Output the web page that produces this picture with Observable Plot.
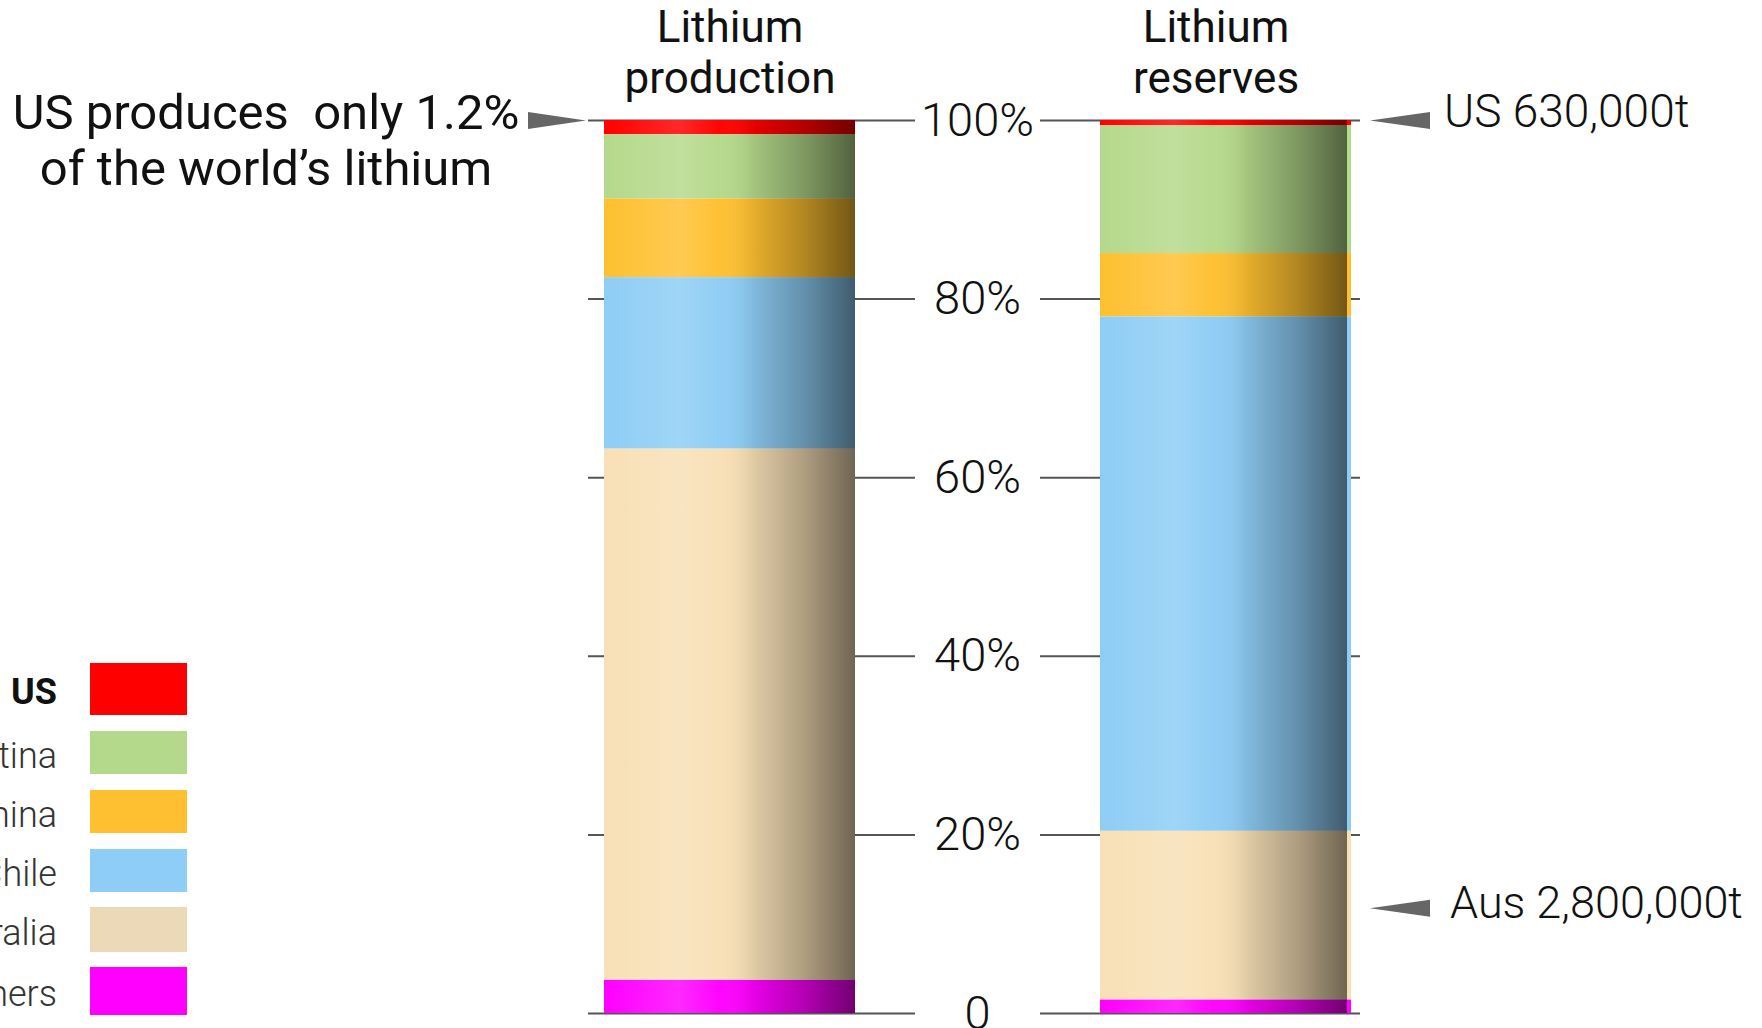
<!DOCTYPE html>
<html>
<head>
<meta charset="utf-8">
<script src="https://cdn.jsdelivr.net/npm/d3@7"></script>
<script src="https://cdn.jsdelivr.net/npm/@observablehq/plot@0.6"></script>
<style>
  html, body { margin: 0; padding: 0; background: #fff; overflow: hidden; }
  #wrap { position: relative; width: 1762px; height: 1028px; font-family: Roboto, "Noto Sans", sans-serif; }
  #chart svg { display: block; }
  #chart text { white-space: pre; }
  .lg-label { position: absolute; right: 1705px; white-space: nowrap; font-size: 36px; font-weight: 300; color: #333; transform: translateY(-44%); }
  .lg-label.bold { font-weight: 700; color: #111; }
  .lg-swatch { position: absolute; left: 90px; width: 97px; }
</style>
</head>
<body>
<div id="wrap">
  <div id="chart"></div>
  <div id="legend"></div>
</div>
<script>
// ---- data ----
const sources = ["Lithium production", "Lithium reserves"];
const sourceLabels = ["Lithium\nproduction", "Lithium\nreserves"];
const countries = ["US", "Argentina", "China", "Chile", "Australia", "Others"];
const barColors = ["#ff0000", "#b5d98b", "#fec030", "#8ecdf5", "#f8e0b6", "#ff00ff"];
const legendColors = ["#ff0000", "#b5d98b", "#fec030", "#8ecdf5", "#ecd9b8", "#ff00ff"];
const productionShare = [1.6, 7.2, 8.8, 19.2, 59.5, 3.7];   // % of world production
const reservesShare = [0.6, 14.3, 7.1, 57.6, 18.9, 1.5];    // % of world reserves
const tickValues = [0, 20, 40, 60, 80, 100];
const tickLabels = ["0", "20%", "40%", "60%", "80%", "100%"];
const noteProduction = {source: "Lithium production", y: 100, text: "US produces  only 1.2%\nof the world’s lithium"};
const noteReservesUS = {source: "Lithium reserves", y: 100, text: "US 630,000t"};
const noteReservesAus = {source: "Lithium reserves", y: 11.8, text: "Aus 2,800,000t"};

// ---- tables built from the arrays ----
const shares = [productionShare, reservesShare];
const rows = sources.flatMap((s, si) => countries.map((c, ci) => ({source: s, country: c, value: shares[si][ci]})));
const totals = sources.map((s, si) => ({source: s, total: d3.sum(shares[si])}));
const headers = sources.map((s, i) => ({source: s, label: sourceLabels[i], y: 100}));

// custom arrow symbols
const arrowRight = {draw(ctx) { ctx.moveTo(29, 0); ctx.lineTo(-29, -8.5); ctx.lineTo(-29, 8.5); ctx.closePath(); }};
const arrowLeft = {draw(ctx) { ctx.moveTo(-30, 0); ctx.lineTo(30, -8.5); ctx.lineTo(30, 8.5); ctx.closePath(); }};

function shadeDefs() {
  const defs = d3.create("svg:defs");
  const lg = defs.append("linearGradient").attr("id", "shade")
    .attr("x1", 0).attr("x2", 1).attr("y1", 0).attr("y2", 0);
  const stops = [
    [0, "#fff", 0], [0.08, "#fff", 0.04], [0.3, "#fff", 0.16], [0.46, "#fff", 0.02],
    [0.6, "#000", 0.1], [0.8, "#000", 0.3], [1, "#000", 0.55]
  ];
  for (const [o, c, a] of stops) lg.append("stop").attr("offset", o).attr("stop-color", c).attr("stop-opacity", a);
  return defs.node();
}

const chart = Plot.plot({
  width: 1762,
  height: 1028,
  marginTop: 120,
  marginBottom: 15,
  marginLeft: 588,
  marginRight: 402,
  style: {fontFamily: "Roboto, 'Noto Sans', sans-serif", background: "#fff", color: "#111"},
  x: {type: "band", domain: sources, range: [604, 1351], paddingInner: 0.494, paddingOuter: 0, axis: null},
  y: {domain: [0, 100], axis: null},
  color: {domain: countries, range: barColors},
  marks: [
    shadeDefs,
    Plot.ruleY(tickValues, {stroke: "#555", strokeWidth: 2, insetRight: 445}),
    Plot.ruleY(tickValues, {stroke: "#555", strokeWidth: 2, insetLeft: 452}),
    Plot.barY(rows, {x: "source", y: "value", fill: "country", order: [...countries].reverse()}),
    Plot.barY(totals.filter(d => d.source === sources[0]), {x: "source", y: "total", fill: "url(#shade)"}),
    Plot.barY(totals.filter(d => d.source === sources[1]), {x: "source", y: "total", fill: "url(#shade)", insetRight: 4}),
    Plot.text(tickValues, {y: d => d, text: (d, i) => tickLabels[i], dx: 3, fontSize: 47, fontWeight: 300, fill: "#111"}),
    Plot.text(headers.slice(0, 1), {x: "source", y: "y", text: "label", lineAnchor: "bottom", lineHeight: 1.14, dy: -28, fontSize: 44, fill: "#111"}),
    Plot.text(headers.slice(1), {x: "source", y: "y", text: "label", lineAnchor: "bottom", lineHeight: 1.14, dy: -28, dx: -10, fontSize: 44, fill: "#111"}),
    // production annotation
    Plot.dot([noteProduction], {x: "source", y: "y", symbol: arrowRight, r: 5, fill: "#666", stroke: null, dx: -173}),
    Plot.text([noteProduction], {x: "source", y: "y", text: "text", dx: -464, dy: 19, fontSize: 49, lineHeight: 1.14, textAnchor: "middle", fill: "#111"}),
    // reserves annotations
    Plot.dot([noteReservesUS, noteReservesAus], {x: "source", y: "y", symbol: arrowLeft, r: 5, fill: "#666", stroke: null, dx: 174}),
    Plot.text([noteReservesUS], {x: "source", y: "y", text: "text", dx: 218, dy: -8, fontSize: 46, fontWeight: 300, textAnchor: "start", fill: "#111"}),
    Plot.text([noteReservesAus], {x: "source", y: "y", text: "text", dx: 224, dy: -5, fontSize: 45, fontWeight: 300, textAnchor: "start", fill: "#111"})
  ]
});
document.getElementById("chart").appendChild(chart);

// ---- legend (HTML, bottom-left) ----
const legend = document.getElementById("legend");
const rowTops = [663, 731, 790, 849, 907, 967];
const rowHeights = [52, 43, 43, 43, 45, 48];
countries.forEach((c, i) => {
  const sw = document.createElement("div");
  sw.className = "lg-swatch";
  sw.style.top = rowTops[i] + "px";
  sw.style.height = rowHeights[i] + "px";
  sw.style.background = legendColors[i];
  legend.appendChild(sw);
  const lb = document.createElement("div");
  lb.className = "lg-label" + (i === 0 ? " bold" : "");
  lb.style.top = (rowTops[i] + rowHeights[i] / 2) + "px";
  lb.textContent = c;
  legend.appendChild(lb);
});
</script>
</body>
</html>
